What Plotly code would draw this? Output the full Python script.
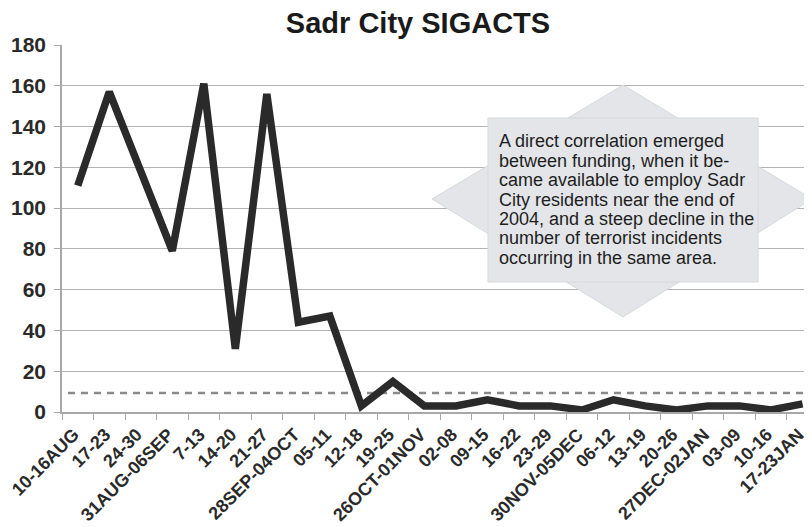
import plotly.graph_objects as go

weeks = ["10-16AUG", "17-23", "24-30", "31AUG-06SEP", "7-13", "14-20", "21-27",
         "28SEP-04OCT", "05-11", "12-18", "19-25", "26OCT-01NOV", "02-08", "09-15",
         "16-22", "23-29", "30NOV-05DEC", "06-12", "13-19", "20-26", "27DEC-02JAN",
         "03-09", "10-16", "17-23JAN"]
sigacts = [111, 157, 118, 79, 161, 31, 156, 44, 47, 3, 15, 3, 3, 6, 3, 3, 1, 6, 3, 1, 3, 3, 1, 4]
reference_level = 9.3
y_ticks = [0, 20, 40, 60, 80, 100, 120, 140, 160, 180]

note_lines = ["A direct correlation emerged",
              "between funding, when it be-",
              "came available to employ Sadr",
              "City residents near the end of",
              "2004, and a steep decline in the",
              "number of terrorist incidents",
              "occurring in the same area."]

OFF = 8  # default body margin of the html page
W, H = 812 - OFF, 527 - OFF
L, R, T, B = 62 - OFF, 0, 45 - OFF, 115
PW, PH = W - L - R, H - T - B

def px(x):  # page pixel -> paper x
    return (x - OFF - L) / PW

def py(y):  # page pixel -> paper y
    return (H - B - (y - OFF)) / PH

fig = go.Figure()
fig.add_trace(go.Scatter(x=weeks, y=sigacts, mode="lines",
                         line=dict(color="#2a2a2a", width=7.5), showlegend=False))

shapes = []
shapes.append(dict(type="line", xref="paper", yref="y", x0=px(68), x1=1,
                   y0=reference_level, y1=reference_level,
                   line=dict(color="#8a8a8a", width=2.5, dash="7px,6px"), layer="below"))
fill = "#e3e5e8"
diamond = "M {} {} L {} {} L {} {} L {} {} Z".format(
    px(623), py(85), px(812), py(199), px(623), py(317), px(432), py(199))
shapes.append(dict(type="path", xref="paper", yref="paper", path=diamond,
                   fillcolor=fill, line=dict(color="#d6d9dc", width=1)))
shapes.append(dict(type="rect", xref="paper", yref="paper",
                   x0=px(488), x1=px(758), y0=py(282), y1=py(118),
                   fillcolor=fill, line=dict(color="#d6d9dc", width=1)))

annotations = []
line_y = [141, 160.5, 180, 199.5, 219, 238.5, 258]
for txt, yy in zip(note_lines, line_y):
    annotations.append(dict(text=txt, xref="paper", yref="paper", x=px(497), y=py(yy),
                            xanchor="left", yanchor="middle", showarrow=False,
                            font=dict(family="Liberation Sans, Arial", size=18, color="#1e1e1e")))

fig.update_layout(
    width=W, height=H,
    margin=dict(l=L, r=R, t=T, b=B, autoexpand=False),
    paper_bgcolor="white", plot_bgcolor="white",
    title=dict(text="<b>Sadr City SIGACTS</b>", x=(418 - OFF) / W, xanchor="center",
               y=1 - (23 - OFF) / H, yanchor="middle",
               font=dict(family="Liberation Sans, Arial", size=29, color="#1a1a1a")),
    shapes=shapes, annotations=annotations,
    xaxis=dict(type="category", range=[-0.5, 23.3], showgrid=False,
               showline=True, linecolor="#a8a8a8", linewidth=2,
               ticks="outside", tickson="boundaries", ticklen=6, tickcolor="#a8a8a8",
               tickangle=-45, ticklabelstandoff=3, ticklabelshift=-4,
               tickfont=dict(family="Liberation Sans, Arial", size=18, color="#2a2a2a", weight="bold")),
    yaxis=dict(range=[0, 180], tickvals=y_ticks, showgrid=True, gridcolor="#b4b4b4", gridwidth=1.2,
               showline=True, linecolor="#a8a8a8", linewidth=1.5, zeroline=False,
               ticks="outside", ticklen=6, tickcolor="#a8a8a8", ticklabelstandoff=4,
               tickfont=dict(family="Liberation Sans, Arial", size=21, color="#2a2a2a", weight="bold")),
)

fig.write_html("out.html")
